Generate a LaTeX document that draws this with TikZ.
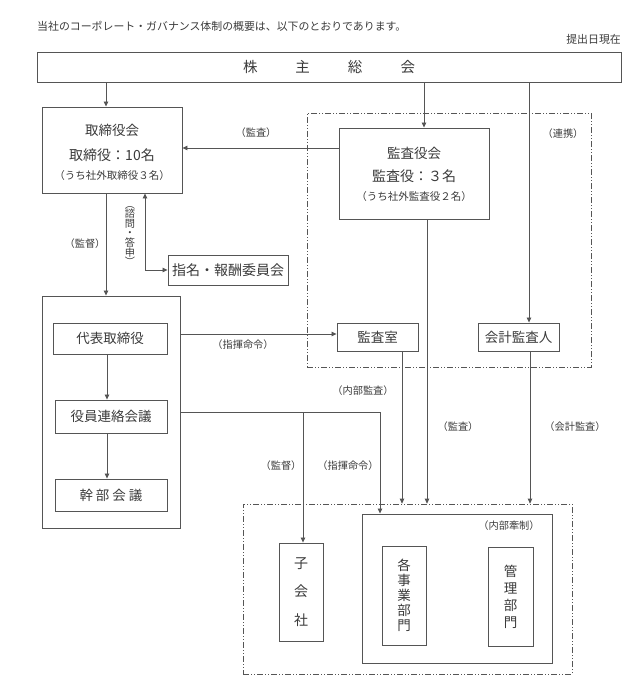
\documentclass[tikz,border=0pt]{standalone}
\usepackage{fontspec}
\setmainfont{Noto Sans CJK JP}
\usetikzlibrary{arrows.meta}
\definecolor{lncol}{HTML}{555555}
\definecolor{txcol}{HTML}{3A3A3A}
\begin{document}
\begin{tikzpicture}[x=1pt,y=-1pt,
  box/.style={draw=lncol, line width=0.9pt, inner sep=0pt, text=txcol, font=\fontsize{13.5}{16}\selectfont},
  ddbox/.style={draw=lncol, line width=0.7pt, dash pattern=on 6pt off 2pt on 1pt off 2pt on 1pt off 2pt, inner sep=0pt},
  txt/.style={text=txcol, inner sep=0pt, font=\fontsize{13.5}{16}\selectfont},
  small/.style={text=txcol, inner sep=0pt, font=\fontsize{10.5}{12}\selectfont},
  lbl/.style={text=txcol, font=\fontsize{10.2}{12}\selectfont, inner sep=0pt},
  arr/.style={draw=lncol, line width=0.8pt, -{Triangle[length=5pt,width=4.5pt]}},
  conn/.style={draw=lncol, line width=0.8pt}]
\useasboundingbox (0,0) rectangle (637,690);

% header texts
\node[lbl, anchor=west, font=\fontsize{10.9}{12}\selectfont] (intro) at (37,26) {当社のコーポレート・ガバナンス体制の概要は、以下のとおりであります。};
\node[lbl, anchor=east, font=\fontsize{10.9}{12}\selectfont] (date) at (621,39) {提出日現在};

% dash-dot group boxes
\node[ddbox, minimum width=284pt, minimum height=254pt] (d1) at (449,240) {};
\node[ddbox, minimum width=329pt, minimum height=170pt] (d2) at (407.5,589) {};

% main boxes
\node[box, minimum width=584pt, minimum height=30pt, font=\fontsize{14.5}{16}\selectfont] (sh) at (329,67) {株\hspace{38pt}主\hspace{38pt}総\hspace{38pt}会};
\node[box, minimum width=140pt, minimum height=86pt] (tb) at (112,150) {};
\node[txt] (tb1) at (112,130) {取締役会};
\node[txt, font=\fontsize{14}{16}\selectfont] (tb2) at (112,155) {取締役：10名};
\node[small] (tb3) at (112,176) {（うち社外取締役３名）};

\node[box, minimum width=150pt, minimum height=91pt] (ka) at (414,173.5) {};
\node[txt] (ka1) at (414,153) {監査役会};
\node[txt, font=\fontsize{14}{16}\selectfont] (ka2) at (414,176) {監査役：３名};
\node[small] (ka3) at (414,197) {（うち社外監査役２名）};

\node[box, minimum width=120pt, minimum height=30pt, font=\fontsize{14}{16}\selectfont] (sk) at (228,270) {指名・報酬委員会};

\node[box, minimum width=138pt, minimum height=232pt] (big) at (111,412) {};
\node[box, minimum width=114pt, minimum height=31pt] (dh) at (110,338.5) {代表取締役};
\node[box, minimum width=112pt, minimum height=33pt] (yr) at (111,416.5) {役員連絡会議};
\node[box, minimum width=112pt, minimum height=32pt] (kb) at (111,495) {幹\hspace{3pt}部\hspace{3pt}会\hspace{3pt}議};

\node[box, minimum width=81pt, minimum height=28pt] (ksr) at (377.5,337) {監査室};
\node[box, minimum width=81pt, minimum height=28pt] (kk) at (518.5,337) {会計監査人};

\node[box, minimum width=190pt, minimum height=149pt] (inner) at (457,588.5) {};
\node[box, minimum width=44pt, minimum height=98pt, align=center, font=\fontsize{14}{28.5}\selectfont] (kg) at (301,592) {子\\会\\社};
\node[box, minimum width=44pt, minimum height=99pt, align=center, font=\fontsize{13.5}{15}\selectfont] (jb) at (404,595.5) {各\\事\\業\\部\\門};
\node[box, minimum width=45pt, minimum height=99pt, align=center, font=\fontsize{13.5}{17}\selectfont] (kr) at (510.5,596.5) {管\\理\\部\\門};

% helper coordinates
\coordinate (xA) at (106,0);
\coordinate (xB) at (424,0);
\coordinate (xC) at (529,0);
\coordinate (xD) at (145,0);
\coordinate (xE) at (107,0);
\coordinate (xF) at (380,0);
\coordinate (xG) at (303,0);
\coordinate (xH) at (402,0);
\coordinate (xI) at (427,0);
\coordinate (xJ) at (530,0);
\coordinate (yA) at (0,148);
\coordinate (yB) at (0,334);
\coordinate (yC) at (0,412);
\coordinate (jn) at (380,412);
\coordinate (br) at (303,412);

% connectors
\draw[arr] (sh.south -| xA) -- (tb.north -| xA);
\draw[arr] (sh.south -| xB) -- (ka.north -| xB);
\draw[arr] (sh.south -| xC) -- (kk.north -| xC);
\draw[arr] (ka.west |- yA) -- (tb.east |- yA);
\draw[arr] (tb.south -| xA) -- (big.north -| xA);
\draw[draw=lncol, line width=0.8pt, {Triangle[length=5pt,width=4.5pt]}-{Triangle[length=5pt,width=4.5pt]}] (tb.south -| xD) |- (sk.west);
\draw[arr] (big.east |- yB) -- (ksr.west |- yB);
\draw[arr] (dh.south -| xE) -- (yr.north -| xE);
\draw[arr] (yr.south -| xE) -- (kb.north -| xE);
\draw[conn] (big.east |- yC) -- (jn);
\draw[arr] (jn) -- (inner.north -| xF);
\draw[arr] (br) -- (kg.north -| xG);
\draw[arr] (ksr.south -| xH) -- (d2.north -| xH);
\draw[arr] (ka.south -| xI) -- (d2.north -| xI);
\draw[arr] (kk.south -| xJ) -- (d2.north -| xJ);

% labels
\node[lbl] (l1) at (256,133) {（監査）};
\node[lbl] (l2) at (563,134) {（連携）};
\node[lbl] (l3) at (85,244) {（監督）};
\node[lbl, align=center, font=\fontsize{10.2}{9.6}\selectfont] (l4) at (130,236) {︵\\諮\\問\\・\\答\\申\\︶};
\node[lbl] (l5) at (243,345) {（指揮命令）};
\node[lbl] (l6) at (363,391) {（内部監査）};
\node[lbl] (l7) at (458,427) {（監査）};
\node[lbl] (l8) at (575,427) {（会計監査）};
\node[lbl] (l9) at (281,466) {（監督）};
\node[lbl] (l10) at (348,466) {（指揮命令）};
\node[lbl] (l11) at (509,526) {（内部牽制）};
\end{tikzpicture}
\end{document}
